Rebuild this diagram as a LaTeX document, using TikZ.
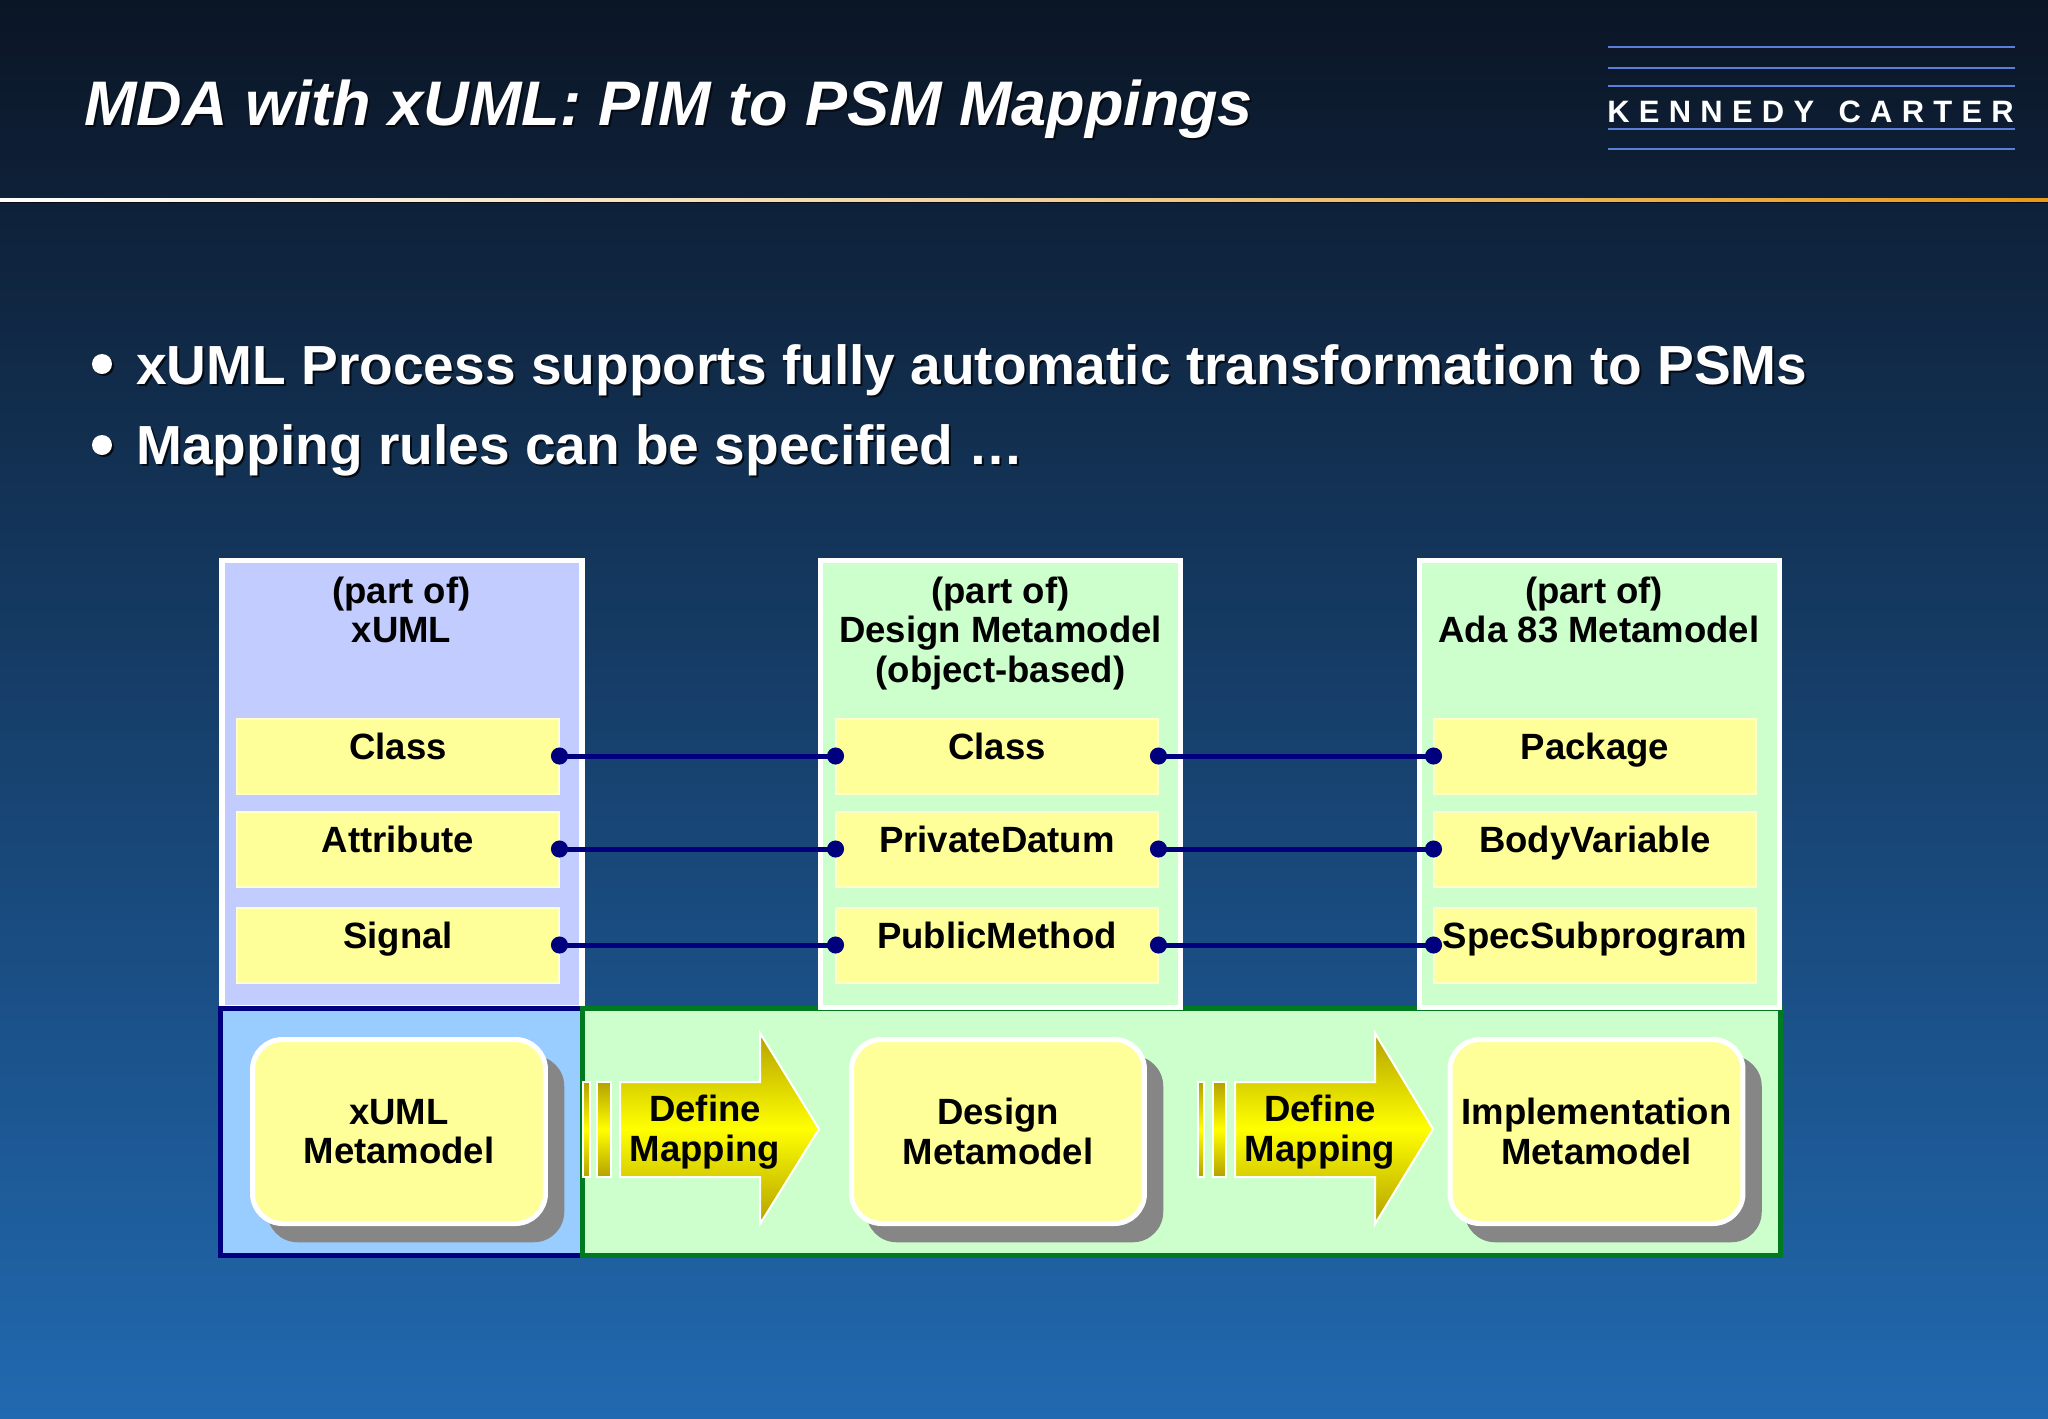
\documentclass[tikz,border=0pt]{standalone}
\usepackage{fontspec}
\setmainfont{Liberation Sans}
\usepackage{xcolor}
\usetikzlibrary{arrows.meta,shadows}

\definecolor{skytop}{HTML}{0B1525}
\definecolor{skybottom}{HTML}{2169B0}
\definecolor{paleblue}{HTML}{C2CCFF}
\definecolor{palegreen}{HTML}{CCFFCC}
\definecolor{midblue}{HTML}{99CCFF}
\definecolor{paleyellow}{HTML}{FFFF99}
\definecolor{navyline}{HTML}{00007F}
\definecolor{greenline}{HTML}{007A1E}
\definecolor{logoline}{HTML}{5A7FD6}
\definecolor{boxshadow}{HTML}{868686}
\definecolor{darkgold}{HTML}{B3A100}
\definecolor{textshadow}{HTML}{050B14}
\definecolor{ruleorange}{HTML}{E89A18}
\definecolor{rulemiddle}{HTML}{F0D29C}

\tikzset{
  panel/.style={rectangle, draw=white, line width=.11cm, outer sep=0, minimum width=7.2cm, minimum height=8.95cm},
  item/.style={rectangle, draw=white!50!paleyellow, fill=paleyellow, line width=.04cm, outer sep=0,
    minimum width=6.44cm, minimum height=1.5cm, inner sep=0, text height=.3cm, text depth=.15cm,
    font=\bfseries\fontsize{20.8}{22.4}\selectfont},
  heading/.style={anchor=north, align=center, inner sep=0, font=\bfseries\fontsize{20.8}{22.4}\selectfont},
  model/.style={rectangle, rounded corners=.6cm, draw=white, fill=paleyellow, line width=.1cm, outer sep=0,
    minimum width=5.86cm, minimum height=3.68cm, align=center,
    font=\bfseries\fontsize{20.8}{22.4}\selectfont,
    general shadow={shadow scale=1.014, shadow xshift=.33cm, shadow yshift=-.345cm, fill=boxshadow}},
  link/.style={draw=navyline, line width=.1cm, shorten <=-.16cm, shorten >=-.16cm,
    {Circle[length=.34cm]}-{Circle[length=.34cm]}},
  arrowbody/.style={draw=white, line width=.04cm, top color=darkgold, bottom color=darkgold, middle color=yellow},
  arrowtext/.style={align=center, inner sep=0, font=\bfseries\fontsize{20.8}{22.4}\selectfont},
  bigtext/.style={anchor=base west, inner sep=0, font=\bfseries\fontsize{31.35}{36}\selectfont},
  titletext/.style={anchor=base west, inner sep=0, font=\bfseries\itshape\fontsize{35.85}{40}\selectfont},
  logobar/.style={draw=logoline, line width=.05cm}
}

\begin{document}
\begin{tikzpicture}[x=.02cm, y=-.02cm]
  \useasboundingbox (0,0) rectangle (2048,1418);
  \shade[top color=skytop, bottom color=skybottom] (0,0) rectangle (2048,1418);

  % header
  \fill[textshadow] (0,197.5) rectangle (2048,202.5);
  \shade[left color=white, right color=ruleorange, middle color=rulemiddle] (0,198.5) rectangle (2048,201.5);
  \node[titletext, text=textshadow] (titleback) at (86,127) {MDA with xUML: PIM to PSM Mappings};
  \node[titletext, text=white] (title) at (84,125) {MDA with xUML: PIM to PSM Mappings};

  \draw[logobar] (1608,47) -- (2015,47);
  \draw[logobar] (1608,68) -- (2015,68);
  \draw[logobar] (1608,86) -- (2015,86);
  \draw[logobar] (1608,129) -- (2015,129);
  \draw[logobar] (1608,149) -- (2015,149);
  \node[anchor=base west, inner sep=0, text=white, font=\bfseries\fontsize{17.6}{20}\selectfont\addfontfeature{LetterSpace=30}] (logo) at (1607,122) {KENNEDY\hspace{.13cm} CARTER};

  % bullets
  \fill[textshadow] (104,366) circle (.2cm);
  \fill[white] (102,364) circle (.2cm);
  \node[bigtext, text=textshadow] (firstback) at (138,386) {xUML Process supports fully automatic transformation to PSMs};
  \node[bigtext, text=white] (first) at (136,384) {xUML Process supports fully automatic transformation to PSMs};
  \fill[textshadow] (104,447) circle (.2cm);
  \fill[white] (102,445) circle (.2cm);
  \node[bigtext, text=textshadow] (secondback) at (138,466) {Mapping rules can be specified \dots};
  \node[bigtext, text=white] (second) at (136,464) {Mapping rules can be specified \dots};

  % bottom band
  \node[panel, fill=paleblue] (xumlpanel) at (402,784) {};
  \draw[draw=navyline, fill=midblue, line width=.1cm] (220.5,1008.5) rectangle (582,1255);
  \draw[draw=greenline, fill=palegreen, line width=.1cm] (582.5,1008.5) rectangle (1780,1255);
  \node[panel, fill=palegreen] (designpanel) at (1000.5,784) {};
  \node[panel, fill=palegreen] (adapanel) at (1599.5,784) {};

  \node[heading] (xumlhead) at (401.5,576.5) {(part of)\\xUML};
  \node[heading] (designhead) at (1000.5,576.5) {(part of)\\Design Metamodel\\(object-based)};
  \node[heading] (adahead) at (1599,576.5) {(part of)\hspace*{.2cm}\\Ada 83 Metamodel};

  % items
  \node[item] (xumlclass) at (398,756) {Class};
  \node[item] (xumlattr) at (398,849) {Attribute};
  \node[item] (xumlsignal) at (398,945) {Signal};

  \node[item] (designclass) at (997,756) {Class};
  \node[item] (designdatum) at (997,849) {PrivateDatum};
  \node[item] (designmethod) at (997,945) {PublicMethod};

  \node[item] (adapackage) at (1595,756) {Package};
  \node[item] (adavariable) at (1595,849) {BodyVariable};
  \node[item] (adaspec) at (1595,945) {SpecSubprogram};

  \draw[link] (xumlclass.east) -- (designclass.west);
  \draw[link] (xumlattr.east) -- (designdatum.west);
  \draw[link] (xumlsignal.east) -- (designmethod.west);
  \draw[link] (designclass.east) -- (adapackage.west);
  \draw[link] (designdatum.east) -- (adavariable.west);
  \draw[link] (designmethod.east) -- (adaspec.west);

  % models
  \node[model] (xumlmodel) at (399,1131.5) {xUML\\Metamodel};
  \node[model] (designmodel) at (998,1131.5) {Design\\Metamodel};
  \node[model] (implmodel) at (1596.5,1131.5) {Implementation\\Metamodel};

  % mappings
  \path[arrowbody] (583,1082) rectangle (590,1177);
  \path[arrowbody] (597,1082) rectangle (611,1177);
  \path[arrowbody] (620,1082) -- (760,1082) -- (760,1033) -- (819,1129) -- (760,1224) -- (760,1177) -- (620,1177) -- cycle;
  \node[arrowtext] (firstmapping) at (705,1132) {Define\\Mapping};

  \path[arrowbody] (1198,1082) rectangle (1204,1177);
  \path[arrowbody] (1213,1082) rectangle (1226,1177);
  \path[arrowbody] (1235,1082) -- (1375,1082) -- (1375,1033) -- (1433,1129) -- (1375,1224) -- (1375,1177) -- (1235,1177) -- cycle;
  \node[arrowtext] (secondmapping) at (1320,1132) {Define\\Mapping};
\end{tikzpicture}
\end{document}
